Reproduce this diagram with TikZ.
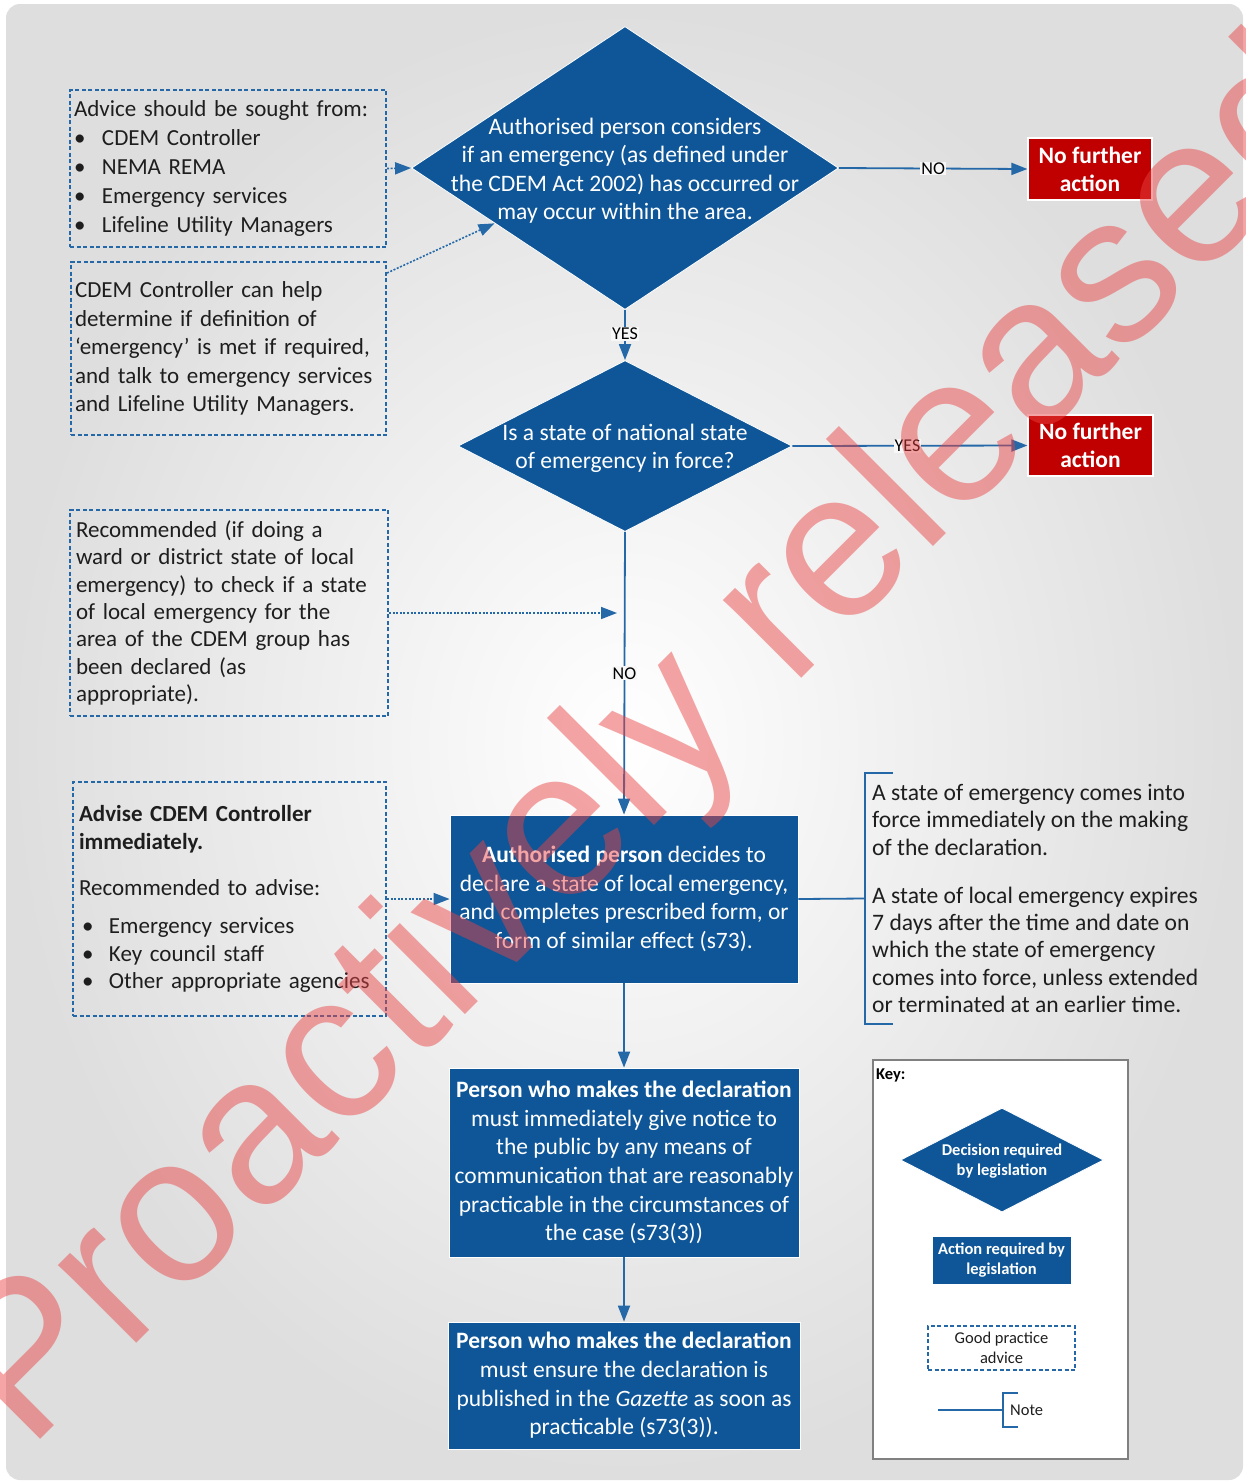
\documentclass[tikz,border=0pt]{standalone}
\usepackage{fontspec}
\setmainfont{Carlito}
\newfontfamily\wmfont{Liberation Sans}
\usetikzlibrary{shapes.geometric,arrows.meta,calc}
\definecolor{cdblue}{RGB}{14,86,152}
\definecolor{lnblue}{RGB}{36,104,168}
\definecolor{cdred}{RGB}{192,0,0}
\definecolor{txtgray}{RGB}{30,30,30}
\definecolor{wmred}{RGB}{234,66,66}

\begin{document}
\begin{tikzpicture}[
        x=1pt, y=-1pt,
        every node/.style={font=\fontsize{23}{29}\selectfont, text=txtgray},
        decision/.style={shape=diamond, fill=cdblue, draw=white, line width=0.8pt, inner sep=0pt},
        dtext/.style={text=white, align=center, font=\fontsize{23.6}{28.5}\selectfont, yshift=-2.5pt},
        action/.style={rectangle, fill=cdblue, draw=white, line width=0.8pt, text=white,
            align=center, inner sep=0pt, font=\fontsize{23.5}{28.6}\selectfont},
        stopbox/.style={rectangle, fill=cdred, draw=white, line width=1.2pt, text=white,
            align=center, inner sep=0pt, font=\bfseries\fontsize{23.5}{28}\selectfont},
        advice/.style={rectangle, draw=lnblue, line width=2pt, dash pattern=on 4pt off 2.5pt,
            align=left, inner xsep=4pt, inner ysep=0pt},
        ar/.style={color=lnblue, line width=1.8pt, -{Triangle[length=16pt,width=12pt]}},
        tip/.style={color=lnblue, line width=1.6pt, dash pattern=on 2pt off 1.6pt,
            -{Triangle[length=16pt,width=12pt]}},
        lbl/.style={fill=white!94!gray, inner sep=1pt, font=\fontsize{18}{20}\selectfont, text=black},
        note/.style={draw=lnblue, line width=1.8pt},
        keyfont/.style={font=\bfseries\fontsize{16.5}{20}\selectfont},
        wm/.style={font=\wmfont\fontsize{209}{209}\selectfont, text=wmred, text opacity=0.48, inner sep=0pt},
    ]

    % page and background
    \useasboundingbox (0,0) rectangle (1246,1481);
    \shade[rounded corners=14pt, inner color=white, outer color=gray!26] (6,4) rectangle (1243,1480);

    % decisions
    \node[decision, minimum width=427pt, minimum height=283pt,
        label={[dtext]center:{Authorised person considers\\if an emergency (as defined under\\the CDEM Act 2002) has occurred or\\may occur within the area.}}]
        (q1) at (625,168) {};
    \node[decision, minimum width=334pt, minimum height=171pt,
        label={[dtext]center:{Is a state of national state\\of emergency in force?}}]
        (q2) at (625,446) {};

    \node[stopbox, minimum width=124pt, minimum height=62pt] (stop1) at (1090,169) {No further\\action};
    \node[stopbox, minimum width=125pt, minimum height=61pt] (stop2) at (1090.5,445.5) {No further\\action};

    % actions
    \node[action, minimum width=348pt, minimum height=168pt] (act1) at (624,899)
        {{\bfseries Authorised person} decides to\\declare a state of local emergency,\\and completes prescribed form, or\\form of similar effect (s73).};
    \node[action, minimum width=350pt, minimum height=189pt] (act2) at (624,1162.5)
        {{\bfseries Person who makes the declaration}\\must immediately give notice to\\the public by any means of\\communication that are reasonably\\practicable in the circumstances of\\the case (s73(3))};
    \node[action, minimum width=352pt, minimum height=127pt] (act3) at (624,1385.5)
        {{\bfseries Person who makes the declaration}\\must ensure the declaration is\\published in the \emph{Gazette} as soon as\\practicable (s73(3)).};

    % good practice advice
    \node[advice, text width=308pt, minimum height=157pt] (adv1) at (228,168.5)
        {Advice should be sought from:\\
        \makebox[28pt][l]{\textbullet}CDEM Controller\\
        \makebox[28pt][l]{\textbullet}NEMA REMA\\
        \makebox[28pt][l]{\textbullet}Emergency services\\
        \makebox[28pt][l]{\textbullet}Lifeline Utility Managers};
    \node[advice, text width=307pt, minimum height=173pt, font=\fontsize{23}{28.5}\selectfont] (adv2) at (228.5,348.5)
        {CDEM Controller can help\\determine if definition of\\‘emergency’ is met if required,\\and talk to emergency services\\and Lifeline Utility Managers.};
    \node[advice, text width=306pt, minimum height=206pt, inner xsep=6pt, font=\fontsize{23}{27.3}\selectfont] (adv3) at (229,613)
        {Recommended (if doing a\\ward or district state of local\\emergency) to check if a state\\of local emergency for the\\area of the CDEM group has\\been declared (as\\appropriate).};
    \node[advice, text width=301pt, minimum height=234pt, inner xsep=6pt, font=\fontsize{23}{27.6}\selectfont] (adv4) at (229.5,899)
        {{\bfseries Advise CDEM Controller\\immediately.}\\[19pt]
        Recommended to advise:\\[10pt]
        \hspace*{3pt}\makebox[27pt][l]{\textbullet}Emergency services\\
        \hspace*{3pt}\makebox[27pt][l]{\textbullet}Key council staff\\
        \hspace*{3pt}\makebox[27pt][l]{\textbullet}Other appropriate agencies};

    % note
    \node[anchor=west, inner sep=0pt, align=left, font=\fontsize{23.6}{27.3}\selectfont] (nt) at (872,898.5)
        {A state of emergency comes into\\force immediately on the making\\of the declaration.\\[20.7pt]
        A state of local emergency expires\\7 days after the time and date on\\which the state of emergency\\comes into force, unless extended\\or terminated at an earlier time.};
    \coordinate (nb) at (865,898.5);
    \coordinate (nol) at (617,613);

    \path[ar]
    (q1.east) edge node[lbl]{NO} (stop1.west)
    (q1.south) edge node[lbl, pos=0.48]{YES} (q2.north)
    (q2.east) edge node[lbl, pos=0.49]{YES} (stop2.west)
    (q2.south) edge node[lbl]{NO} (act1.north)
    (act1.south) edge (act2.north)
    (act2.south) edge (act3.north)
    ;
    \path[tip]
    (adv1.east) edge (q1.west)
    ([yshift=-12pt]adv2.north east) edge ($(q1.west)!0.39!(q1.south)$)
    (adv3.east) edge (nol)
    (adv4.east) edge (act1.west)
    ;
    \draw[note] (act1.east) -- (nb);
    \draw[note] (893,773) -- (865,773) -- (865,1024) -- (893,1024);

    % key
    \node[draw=gray, line width=2pt, fill=white, minimum width=255pt, minimum height=399pt] (key) at (1000.5,1259.5) {};
    \node[keyfont, anchor=west, inner sep=0pt, text=black] (keyt) at (876,1075) {Key:};
    \node[decision, minimum width=203pt, minimum height=104pt,
        label={[dtext, keyfont, text=white, yshift=1pt]center:{Decision required\\by legislation}}]
        (kq) at (1002,1160) {};
    \node[action, keyfont, minimum width=139pt, minimum height=48pt] (ka) at (1001.5,1260) {Action required by\\legislation};
    \node[advice, align=center, inner xsep=0pt, minimum width=147pt, minimum height=44pt,
        font=\fontsize{16.5}{20}\selectfont, line width=1.8pt] (kg) at (1001.5,1348) {Good practice\\advice};
    \node[anchor=west, inner sep=0pt, font=\fontsize{16.5}{20}\selectfont] (kn) at (1010,1410) {Note};
    \coordinate (kl) at (938,1410);
    \coordinate (kb) at (1003,1410);
    \draw[note] (kl) -- (kb);
    \draw[note] (1018,1393) -- (1003,1393) -- (1003,1427) -- (1018,1427);

    % watermark
    \node[wm, rotate=45, anchor=base west] (mark) at (28,1452) {Proactively released};
\end{tikzpicture}
\end{document}
